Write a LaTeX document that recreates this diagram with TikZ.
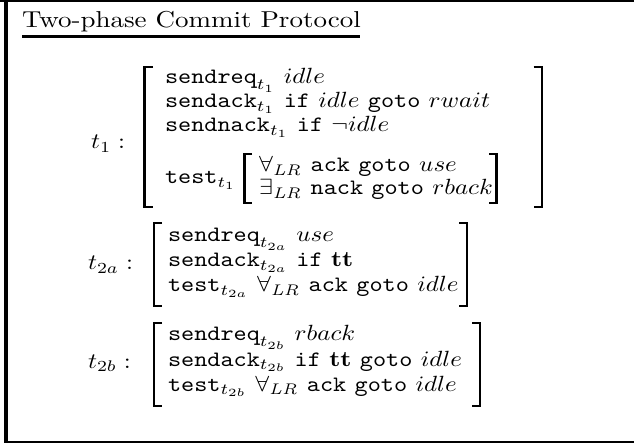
\documentclass[tikz,border=0pt]{standalone}
\begin{document}
\begin{tikzpicture}[x=1pt,y=-1pt,
  txt/.style={inner sep=0pt, outer sep=0pt, anchor=base west, xscale=2.5, yscale=2.2},
  ttl/.style={inner sep=0pt, outer sep=0pt, anchor=base west, xscale=2.7, yscale=2.3},
  brk/.style={line width=2.4pt, line join=miter, line cap=butt}]
\useasboundingbox (0,0) rectangle (634,443);
% frame
\fill (0,0) rectangle (634,2.5);
\fill (4,0) rectangle (7.5,442.5);
\fill (4,440.5) rectangle (634,442.5);
% title
\node[ttl] (title) at (22,28) {Two-phase Commit Protocol};
\draw[line width=2.2pt] (22,36.5) -- (360,36.5);
% t1 block
\node[txt] (l1) at (91,149) {$t_1 :$};
\draw[brk] (153,67) -- (144.5,67) -- (144.5,207) -- (153,207);
\draw[brk] (533.5,67) -- (542,67) -- (542,207) -- (533.5,207);
\node[txt] (a1) at (165,84)  {$\texttt{sendreq}_{t_1}\ idle$};
\node[txt] (a2) at (165,108) {$\texttt{sendack}_{t_1}\ \texttt{if}\ idle\ \texttt{goto}\ rwait$};
\node[txt] (a3) at (165,132) {$\texttt{sendnack}_{t_1}\ \texttt{if}\ \neg idle$};
\node[txt] (a4) at (165,184) {$\texttt{test}_{t_1}$};
\draw[brk] (252,154) -- (244.5,154) -- (244.5,203) -- (252,203);
\draw[brk] (489,154) -- (496.5,154) -- (496.5,203) -- (489,203);
\node[txt] (a5) at (259,172) {$\forall_{\mathit{LR}}\ \texttt{ack}\ \texttt{goto}\ use$};
\node[txt] (a6) at (259,195) {$\exists_{\mathit{LR}}\ \texttt{nack}\ \texttt{goto}\ rback$};
% t2a block
\node[txt] (l2) at (88,270) {$t_{2a} :$};
\draw[brk] (162,223) -- (154,223) -- (154,306) -- (162,306);
\draw[brk] (459,223) -- (467,223) -- (467,306) -- (459,306);
\node[txt] (b1) at (168,242) {$\texttt{sendreq}_{t_{2a}}\ use$};
\node[txt] (b2) at (168,267) {$\texttt{sendack}_{t_{2a}}\ \texttt{if}\ \mathbf{tt}$};
\node[txt] (b3) at (168,292) {$\texttt{test}_{t_{2a}}\ \forall_{\mathit{LR}}\ \texttt{ack}\ \texttt{goto}\ idle$};
% t2b block
\node[txt] (l3) at (88,368) {$t_{2b} :$};
\draw[brk] (162,323) -- (154,323) -- (154,406) -- (162,406);
\draw[brk] (472,323) -- (480,323) -- (480,406) -- (472,406);
\node[txt] (c1) at (168,341) {$\texttt{sendreq}_{t_{2b}}\ rback$};
\node[txt] (c2) at (168,366) {$\texttt{sendack}_{t_{2b}}\ \texttt{if}\ \mathbf{tt}\ \texttt{goto}\ idle$};
\node[txt] (c3) at (168,391) {$\texttt{test}_{t_{2b}}\ \forall_{\mathit{LR}}\ \texttt{ack}\ \texttt{goto}\ idle$};
\end{tikzpicture}
\end{document}
